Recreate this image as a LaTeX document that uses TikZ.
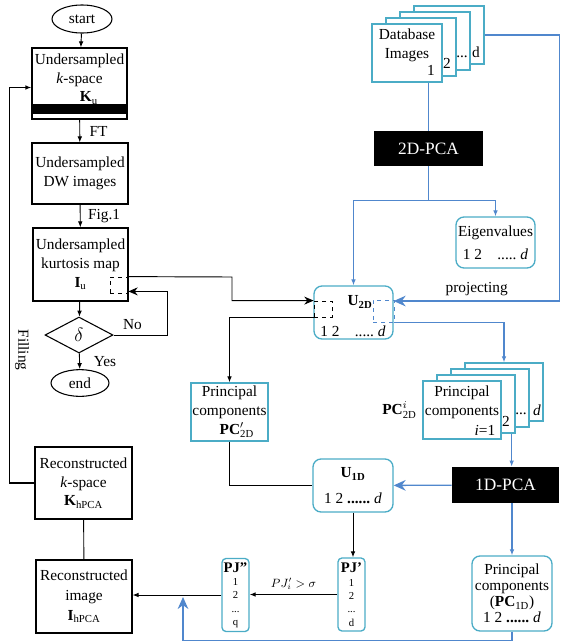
\documentclass[tikz,border=0pt]{standalone}
\usepackage{fontspec}
\setmainfont{Liberation Serif}
\usetikzlibrary{shapes.geometric,calc,arrows.meta}

\definecolor{boxcyan}{RGB}{75,172,198}
\definecolor{lineblue}{RGB}{80,135,205}

\begin{document}
\begin{tikzpicture}[x=0.75pt,y=-0.75pt,>=Stealth,line width=.7pt,
    font=\fontsize{11.5}{14}\selectfont,
    flow/.style={draw,align=center,inner sep=1pt,line width=.9pt},
    term/.style={draw,ellipse,inner sep=0pt,line width=.8pt},
    pcabox/.style={fill=black,text=white,font=\fontsize{13}{15}\selectfont,inner sep=0pt},
    cbox/.style={draw=boxcyan,rounded corners=6pt,line width=1pt,align=center,inner sep=1pt},
    pagebox/.style={draw=boxcyan,fill=white,line width=1pt,inner sep=0.5pt,align=center},
    pjbox/.style={cbox,rounded corners=3pt,minimum width=20.25pt,minimum height=54.75pt,
      inner sep=0pt,font=\fontsize{8}{10}\selectfont},
    karr/.style={-{Latex[length=4.5pt,width=3.5pt]}},
    kbig/.style={-{Stealth[length=7pt,width=6pt]}},
    barr/.style={lineblue,line width=.8pt,-{Latex[length=4.5pt,width=3.5pt]}},
    bbig/.style={lineblue,line width=1pt,-{Stealth[length=9pt,width=8pt]}},
    bline/.style={lineblue,line width=.8pt},
    dbox/.style={draw,dashed,line width=.6pt,inner sep=0pt}]

\useasboundingbox (0,0) rectangle (565,643);

% left column
\node [term,minimum width=45pt,minimum height=21pt] (start) at (82,19) {start};
\node [flow,minimum width=71.25pt,minimum height=53.25pt,text depth=8.7pt] (ksp) at (79.5,83.5)
  {Undersampled\\\textit{k}-space\\\hspace*{14pt}\textbf{K}\textsubscript{u}};
\fill ($(ksp.south west)+(1pt,4.5pt)$) rectangle ($(ksp.south east)+(-1pt,12pt)$);
\node [flow,minimum width=72pt,minimum height=45.75pt] (dw) at (80,173.5) {Undersampled\\DW images};
\node [flow,minimum width=71.25pt,minimum height=54.75pt] (kurt) at (80.5,264.5)
  {Undersampled\\kurtosis map\\\textbf{I}\textsubscript{u}};
\node [dbox,minimum width=13.5pt,minimum height=12pt] (kdash) at (119,285) {};
\node [draw,diamond,minimum width=51pt,minimum height=27pt,inner sep=0pt,line width=.8pt] (delta) at (79,335) {\Large$\delta$};
\node [term,minimum width=43.5pt,minimum height=20pt] (end) at (80,383) {end};

\node [flow,minimum width=72.75pt,minimum height=54pt] (recks) at (83.5,483)
  {Reconstructed\\\textit{k}-space\\\textbf{K}\textsubscript{hPCA}};
\node [flow,minimum width=72pt,minimum height=54.75pt,font=\fontsize{11.5}{15}\selectfont] (recimg) at (84,596.5)
  {Reconstructed\\image\\\textbf{I}\textsubscript{hPCA}};
\node [rotate=-90] (filling) at (22,350) {Filling};

\draw [karr] (start) -- (ksp);
\draw [karr] (ksp) -- node[right,xshift=3.7pt]{FT} (dw);
\draw [karr] (dw) -- node[right,xshift=2.2pt]{Fig.1} (kurt);
\draw [karr] (kurt) -- (delta);
\draw [karr] (delta) -- node[right,xshift=7pt]{Yes} (end);
\draw [kbig] (delta.east) -- node[above,pos=.35]{No} ++(54,0) |- ([yshift=1.5pt]kdash.south east);
\draw [karr,line width=1pt] (recks.west) -- ++(-25,0) |- ([yshift=-3pt]ksp.west);
\draw (recks) -- (recimg);

% top right
\foreach \k in {3,2,1}
  \node [pagebox,minimum width=52.5pt,minimum height=43.5pt] (db\k) at (407+14*\k,53-6*\k) {};
\node [pagebox,minimum width=52.5pt,minimum height=43.5pt,text depth=14pt] (db) at (407,53) {Database\\Images};
\node (dbone) at (431,70) {1};
\node (dbtwo) at (447,63) {2};
\node (dbdots) at (462,57) {...};
\node (dbd) at (476,52) {d};

\node [pcabox,minimum width=81.75pt,minimum height=26.25pt] (pca2) at (428.5,148.5) {2D-PCA};
\node [cbox,minimum width=59.25pt,minimum height=38.25pt] (eig) at (495.5,242.5)
  {Eigenvalues\\[3pt]1 2\quad.....\ \textit{d}};
\node [cbox,minimum width=59.25pt,minimum height=39.75pt] (u2d) at (353.5,312.5) {};
\node (u2dname) at (360,302) {\textbf{U}\textsubscript{\textbf{2D}}};
\node (u2dnums) at (353,331) {1 2\quad.....\ \textit{d}};
\node [dbox,minimum width=13.5pt,minimum height=12pt] (u2dk) at (323,309) {};
\node [dbox,draw=lineblue,minimum width=15.75pt,minimum height=16.5pt] (u2db) at (383.5,311) {};

\draw [bline] (pca2.south |- db.south) -- (pca2.north);
\draw [bline] (pca2.south) -- ++(0,34) coordinate (split);
\draw [barr] (split) -| (u2d.north);
\draw [barr] (split) -| (eig.north);
\draw [bbig] (db3.east) -- ++(75,0) |- node[above,pos=.75,text=black]{projecting} ([yshift=8.6pt]u2d.east);
\draw [kbig] (kdash.north east) -- (232,277) |- (u2dk.north west);

% middle
\node [pagebox,fill=none,minimum width=57.75pt,minimum height=43.5pt] (pcp) at (229.5,412)
  {Principal\\components\\\hspace*{11pt}$\mathbf{PC}'_{\mathrm{2D}}$};
\foreach \k in {3,2,1}
  \node [pagebox,minimum width=58.5pt,minimum height=43.5pt] (pcs\k) at (462+14*\k,410-6*\k) {};
\node [pagebox,minimum width=58.5pt,minimum height=43.5pt,text depth=14pt] (pcs) at (462,410) {Principal\\components};
\node (pcsi) at (485,430) {\textit{i}=1};
\node (pcstwo) at (506,421) {2};
\node (pcsdots) at (521,414) {...};
\node (pcsd) at (537,410) {\textit{d}};
\node [anchor=east,inner sep=1pt] (pcslab) at ([xshift=-3pt]pcs.west) {$\mathbf{PC}^{i}_{\mathrm{2D}}$};

\draw [karr] (u2dk.south west) -| (pcp.north);
\draw [barr] (u2db.south east) -| (pcs3.north);

% bottom
\node [pcabox,minimum width=80.25pt,minimum height=27pt] (pca1) at (505.5,485) {1D-PCA};
\node [cbox,minimum width=60pt,minimum height=39.75pt] (u1d) at (353,485.5)
  {\textbf{U}\textsubscript{\textbf{1D}}\\[5pt]1 2 \textbf{......}\ \textit{d}};
\node [cbox,minimum width=60pt,minimum height=56.25pt,font=\fontsize{11.5}{12}\selectfont] (pc1d) at (512,593.5)
  {Principal\\components\\(\textbf{PC}\textsubscript{1D})\\1 2 \textbf{......}\ \textit{d}};
\node [pjbox] (pj1) at (351.5,594.5) {{\fontsize{11}{11}\selectfont\textbf{PJ'}}\\1\\2\\...\\d};
\node [pjbox] (pj2) at (235.5,595) {{\fontsize{11}{11}\selectfont\textbf{PJ''}}\\1\\2\\...\\q};
\coordinate (mrg) at (183,597);

\draw [barr] ([xshift=-3pt]pcs1.south east) -- ([xshift=-3pt]pcs1.south east |- pca1.north);
\draw [bbig] (pca1) -- (u1d);
\draw [barr] (pca1.south -| pc1d.north) -- (pc1d.north);
\draw (pcp.south) |- (u1d.west);
\draw [karr] (u1d.south) -- (u1d.south |- pj1.north);
\draw [karr] (pj1.west) -- node[above,font=\fontsize{9}{10}\selectfont]{$PJ'_i>\sigma$} (pj1.west -| pj2.east);
\draw [karr] (pj2.west) -- (pj2.west -| recimg.east);
\draw [bbig] (pc1d.south) -- ++(0,9) -| (mrg);

\end{tikzpicture}
\end{document}
